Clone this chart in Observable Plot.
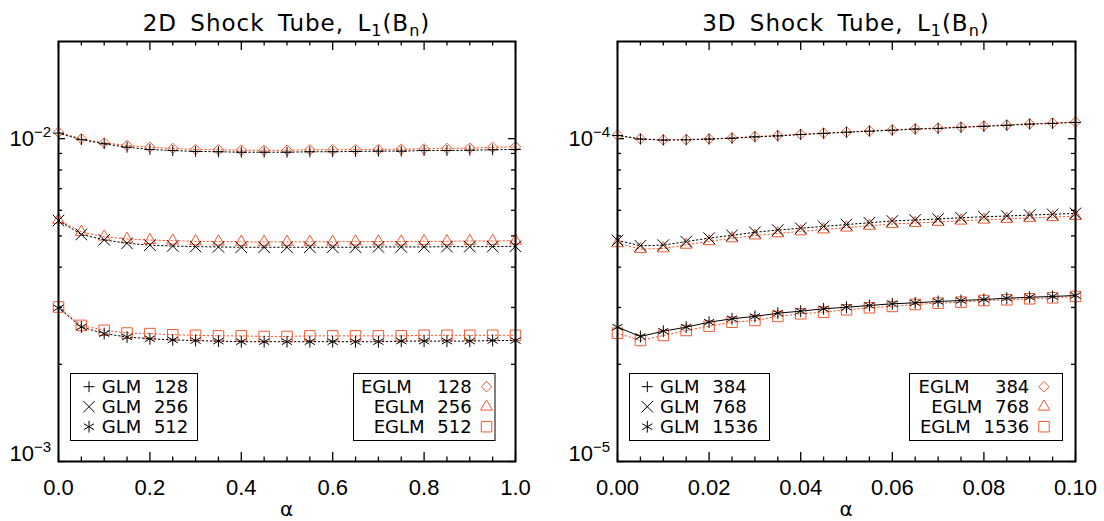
<!DOCTYPE html>
<html><head><meta charset="utf-8">
<script src="https://cdn.jsdelivr.net/npm/d3@7"></script>
<script src="https://cdn.jsdelivr.net/npm/@observablehq/plot@0.6"></script>
<style>
html,body{margin:0;padding:0;background:#fff;}
#wrap{display:flex;width:1104px;height:521px;overflow:hidden;}
#wrap svg{display:block;background:#fff;}
</style></head><body><div id="wrap"></div>
<script>
// ---------- data ----------
const alpha2D = [0.00,0.05,0.10,0.15,0.20,0.25,0.30,0.35,0.40,0.45,0.50,0.55,0.60,0.65,0.70,0.75,0.80,0.85,0.90,0.95,1.00];
const glm128  = [0.01040,0.00993,0.00964,0.00941,0.00926,0.00919,0.00913,0.00911,0.00908,0.00908,0.00908,0.00911,0.00911,0.00913,0.00915,0.00915,0.00919,0.00919,0.00921,0.00924,0.00926];
const eglm128 = [0.01047,0.00999,0.00971,0.00953,0.00941,0.00933,0.00926,0.00924,0.00921,0.00921,0.00921,0.00924,0.00924,0.00926,0.00926,0.00928,0.00930,0.00933,0.00935,0.00940,0.00944];
const glm256  = [0.00558,0.00505,0.00486,0.00474,0.00468,0.00465,0.00463,0.00462,0.00461,0.00461,0.00461,0.00461,0.00461,0.00461,0.00462,0.00462,0.00462,0.00463,0.00463,0.00463,0.00464];
const eglm256 = [0.00560,0.00514,0.00497,0.00489,0.00485,0.00483,0.00481,0.00480,0.00479,0.00479,0.00479,0.00479,0.00479,0.00480,0.00480,0.00480,0.00481,0.00481,0.00482,0.00482,0.00483];
const glm512  = [0.00299,0.00261,0.00249,0.00243,0.00240,0.00238,0.00237,0.00236,0.00235,0.00235,0.00235,0.00235,0.00235,0.00235,0.00235,0.00236,0.00236,0.00236,0.00236,0.00237,0.00237];
const eglm512 = [0.00301,0.00264,0.00255,0.00250,0.00249,0.00247,0.00246,0.00245,0.00245,0.00244,0.00244,0.00245,0.00245,0.00245,0.00245,0.00245,0.00246,0.00246,0.00246,0.00246,0.00246];

const alpha3D = [0.000,0.005,0.010,0.015,0.020,0.025,0.030,0.035,0.040,0.045,0.050,0.055,0.060,0.065,0.070,0.075,0.080,0.085,0.090,0.095,0.100];
const glm384   = [1.023e-4,0.997e-4,0.990e-4,0.992e-4,0.997e-4,1.003e-4,1.013e-4,1.020e-4,1.030e-4,1.038e-4,1.047e-4,1.055e-4,1.062e-4,1.071e-4,1.076e-4,1.084e-4,1.092e-4,1.100e-4,1.109e-4,1.115e-4,1.123e-4];
const eglm384  = [1.026e-4,0.999e-4,0.992e-4,0.994e-4,0.999e-4,1.006e-4,1.015e-4,1.023e-4,1.032e-4,1.041e-4,1.049e-4,1.057e-4,1.065e-4,1.073e-4,1.079e-4,1.087e-4,1.095e-4,1.103e-4,1.112e-4,1.118e-4,1.126e-4];
const glm768   = [4.84e-5,4.66e-5,4.68e-5,4.80e-5,4.92e-5,5.02e-5,5.13e-5,5.21e-5,5.28e-5,5.35e-5,5.42e-5,5.49e-5,5.56e-5,5.60e-5,5.64e-5,5.69e-5,5.73e-5,5.76e-5,5.80e-5,5.83e-5,5.87e-5];
const eglm768  = [4.74e-5,4.55e-5,4.57e-5,4.69e-5,4.81e-5,4.91e-5,5.01e-5,5.09e-5,5.16e-5,5.23e-5,5.30e-5,5.37e-5,5.44e-5,5.48e-5,5.52e-5,5.57e-5,5.61e-5,5.64e-5,5.68e-5,5.71e-5,5.76e-5];
const glm1536  = [2.607e-5,2.439e-5,2.533e-5,2.607e-5,2.701e-5,2.768e-5,2.814e-5,2.880e-5,2.922e-5,2.972e-5,3.006e-5,3.043e-5,3.080e-5,3.102e-5,3.131e-5,3.153e-5,3.176e-5,3.205e-5,3.228e-5,3.245e-5,3.268e-5];
const eglm1536 = [2.497e-5,2.371e-5,2.457e-5,2.546e-5,2.625e-5,2.701e-5,2.734e-5,2.814e-5,2.868e-5,2.901e-5,2.951e-5,2.994e-5,3.022e-5,3.065e-5,3.094e-5,3.116e-5,3.153e-5,3.169e-5,3.192e-5,3.215e-5,3.245e-5];

const xMajor2D = [0, 0.2, 0.4, 0.6, 0.8, 1.0];
const xMinor2D = [0.05,0.1,0.15,0.25,0.3,0.35,0.45,0.5,0.55,0.65,0.7,0.75,0.85,0.9,0.95];
const xMajor3D = [0, 0.02, 0.04, 0.06, 0.08, 0.10];
const xMinor3D = [0.005,0.01,0.015,0.025,0.03,0.035,0.045,0.05,0.055,0.065,0.07,0.075,0.085,0.09,0.095];
const yDomain2D = [1e-3, 2e-2];
const yMajor2D = [1e-3, 1e-2];
const yMinor2D = [2e-3,3e-3,4e-3,5e-3,6e-3,7e-3,8e-3,9e-3];
const yDomain3D = [1e-5, 2e-4];
const yMajor3D = [1e-5, 1e-4];
const yMinor3D = [2e-5,3e-5,4e-5,5e-5,6e-5,7e-5,8e-5,9e-5];

const title2D = [["2D Shock Tube, L",0],["1",1],["(B",0],["n",1],[")",0]];
const title3D = [["3D Shock Tube, L",0],["1",1],["(B",0],["n",1],[")",0]];
const xLabel = "α";
const legGLM2D  = ["GLM 128", "GLM 256", "GLM 512"];
const legEGLM2D = ["EGLM  128", "EGLM 256", "EGLM 512"];
const legGLM3D  = ["GLM 384", "GLM 768", "GLM 1536"];
const legEGLM3D = ["EGLM  384", "EGLM 768", "EGLM 1536"];

// ---------- styles ----------
const ORANGE = "#ee5a30";
const DOT = "1.5,2.5";
const SYM = {
  plus:      {r: 3.6},
  times:     {r: 5.3},
  asterisk:  {r: 5.6},
  diamond2:  {r: 4.7},
  triangle2: {r: 5.6},
  square2:   {r: 6.7}
};
const D3SYM = {plus: d3.symbolPlus, times: d3.symbolTimes, asterisk: d3.symbolAsterisk,
  diamond2: d3.symbolDiamond2, triangle2: d3.symbolTriangle2, square2: d3.symbolSquare2};

function rows(xs, ys) { return xs.map((a, i) => ({a, v: ys[i]})); }

function makePanel(cfg) {
  const W = cfg.width, H = 521, mt = 41, mb = 60, ml = cfg.ml, mr = cfg.mr;
  const iw = W - ml - mr, ih = H - mt - mb;
  const marks = [];
  const tw = 1.3;
  marks.push(
    Plot.ruleX(cfg.xMajor, {x: d => d, insetTop: ih - 9, strokeWidth: tw}),
    Plot.ruleX(cfg.xMajor, {x: d => d, insetBottom: ih - 9, strokeWidth: tw}),
    Plot.ruleX(cfg.xMinor, {x: d => d, insetTop: ih - 4.5, strokeWidth: tw}),
    Plot.ruleX(cfg.xMinor, {x: d => d, insetBottom: ih - 4.5, strokeWidth: tw}),
    Plot.ruleY(cfg.yMajor, {y: d => d, insetRight: iw - 7, strokeWidth: tw}),
    Plot.ruleY(cfg.yMajor, {y: d => d, insetLeft: iw - 7, strokeWidth: tw}),
    Plot.ruleY(cfg.yMinor, {y: d => d, insetRight: iw - 4, strokeWidth: tw}),
    Plot.ruleY(cfg.yMinor, {y: d => d, insetLeft: iw - 4, strokeWidth: tw})
  );
  for (const s of cfg.series) {
    marks.push(Plot.line(s.data, {x: "a", y: "v", stroke: s.color, strokeWidth: 1, strokeDasharray: s.dash}));
    marks.push(Plot.dot(s.data, {x: "a", y: "v", symbol: s.symbol, r: SYM[s.symbol].r, stroke: s.color, fill: "none", strokeWidth: 1}));
  }
  marks.push(Plot.frame({stroke: "black", strokeWidth: 2}));
  marks.push(Plot.axisX(cfg.xMajor, {tickSize: 0, tickPadding: 18, tickFormat: cfg.xFmt, label: null,
    fontSize: 22, fontFamily: "Liberation Sans"}));

  const plot = Plot.plot({
    width: W, height: H, marginTop: mt, marginBottom: mb, marginLeft: ml, marginRight: mr,
    x: {domain: cfg.xDomain},
    y: {type: "log", domain: cfg.yDomain, axis: null},
    style: {fontFamily: "Liberation Sans", fontSize: "22px", color: "black", background: "white"},
    marks
  });
  const svg = d3.select(plot);
  const sy = plot.scale("y");

  // title with subscripts
  const t = svg.append("text").attr("x", ml + iw / 2).attr("y", 31).attr("text-anchor", "middle")
    .attr("font-family", "DejaVu Sans").attr("font-size", 23).attr("fill", "black")
    .style("letter-spacing", "1px").style("word-spacing", "5px").style("white-space", "pre");
  let prev = 0;
  for (const [txt, sub] of cfg.title) {
    const sp = t.append("tspan").text(txt);
    if (sub) sp.attr("font-size", 16);
    if (sub !== prev) sp.attr("dy", sub ? 5 : -5);
    prev = sub;
  }

  // y tick labels 10^n
  for (const v of cfg.yMajor) {
    const e = Math.round(Math.log10(v));
    const y = sy.apply(v);
    const base = v === cfg.yDomain[0] ? y : y + 8;
    const tx = svg.append("text").attr("x", ml - 7).attr("y", base).attr("text-anchor", "end")
      .attr("font-family", "Liberation Sans").attr("font-size", 22).attr("fill", "black");
    tx.append("tspan").text("10");
    tx.append("tspan").text("\u2212" + Math.abs(e)).attr("font-size", 15).attr("dy", -9.5);
  }

  // x label
  svg.append("text").attr("x", ml + iw / 2).attr("y", 515.5).attr("text-anchor", "middle")
    .attr("font-family", "DejaVu Sans").attr("font-size", 20).attr("fill", "black").text(xLabel);

  // legends
  for (const L of cfg.legends) {
    svg.append("rect").attr("x", L.x).attr("y", 373.5).attr("width", L.w).attr("height", 67)
      .attr("fill", "white").attr("stroke", "black").attr("stroke-width", 1);
    L.items.forEach((it, i) => {
      const cy = 386.7 + i * 20;
      const size = Math.PI * SYM[it.symbol].r ** 2;
      svg.append("path").attr("d", d3.symbol(D3SYM[it.symbol], size)())
        .attr("transform", `translate(${L.symX},${cy})`)
        .attr("fill", "none").attr("stroke", it.color).attr("stroke-width", 1);
      svg.append("text").attr("x", L.textX).attr("y", cy + 6.6)
        .attr("text-anchor", L.anchor).attr("font-family", "DejaVu Sans").attr("font-size", 18)
        .attr("fill", "black").style("white-space", "pre").style("word-spacing", "7px")
        .text(it.label);
    });
  }
  return plot;
}

const wrap = document.getElementById("wrap");

wrap.appendChild(makePanel({
  width: 552, ml: 58, mr: 37,
  xDomain: [0, 1], yDomain: yDomain2D,
  xMajor: xMajor2D, xMinor: xMinor2D, yMajor: yMajor2D, yMinor: yMinor2D,
  xFmt: d3.format(".1f"), title: title2D,
  series: [
    {data: rows(alpha2D, eglm128), color: ORANGE, symbol: "diamond2", dash: DOT},
    {data: rows(alpha2D, eglm256), color: ORANGE, symbol: "triangle2", dash: DOT},
    {data: rows(alpha2D, eglm512), color: ORANGE, symbol: "square2", dash: DOT},
    {data: rows(alpha2D, glm128), color: "black", symbol: "plus", dash: DOT},
    {data: rows(alpha2D, glm256), color: "black", symbol: "times", dash: DOT},
    {data: rows(alpha2D, glm512), color: "black", symbol: "asterisk", dash: DOT}
  ],
  legends: [
    {x: 70.5, w: 127, symX: 89, textX: 101.7, anchor: "start", items: [
      {symbol: "plus", color: "black", label: legGLM2D[0]},
      {symbol: "times", color: "black", label: legGLM2D[1]},
      {symbol: "asterisk", color: "black", label: legGLM2D[2]}]},
    {x: 353.5, w: 141.5, symX: 486.5, textX: 471.7, anchor: "end", items: [
      {symbol: "diamond2", color: ORANGE, label: legEGLM2D[0]},
      {symbol: "triangle2", color: ORANGE, label: legEGLM2D[1]},
      {symbol: "square2", color: ORANGE, label: legEGLM2D[2]}]}
  ]
}));

wrap.appendChild(makePanel({
  width: 552, ml: 65, mr: 29,
  xDomain: [0, 0.1], yDomain: yDomain3D,
  xMajor: xMajor3D, xMinor: xMinor3D, yMajor: yMajor3D, yMinor: yMinor3D,
  xFmt: d3.format(".2f"), title: title3D,
  series: [
    {data: rows(alpha3D, eglm384), color: ORANGE, symbol: "diamond2", dash: DOT},
    {data: rows(alpha3D, eglm768), color: ORANGE, symbol: "triangle2", dash: DOT},
    {data: rows(alpha3D, eglm1536), color: ORANGE, symbol: "square2", dash: DOT},
    {data: rows(alpha3D, glm384), color: "black", symbol: "plus", dash: DOT},
    {data: rows(alpha3D, glm768), color: "black", symbol: "times", dash: DOT},
    {data: rows(alpha3D, glm1536), color: "black", symbol: "asterisk", dash: null}
  ],
  legends: [
    {x: 77.5, w: 140, symX: 95.3, textX: 108, anchor: "start", items: [
      {symbol: "plus", color: "black", label: legGLM3D[0]},
      {symbol: "times", color: "black", label: legGLM3D[1]},
      {symbol: "asterisk", color: "black", label: legGLM3D[2]}]},
    {x: 357.5, w: 153, symX: 492, textX: 477.3, anchor: "end", items: [
      {symbol: "diamond2", color: ORANGE, label: legEGLM3D[0]},
      {symbol: "triangle2", color: ORANGE, label: legEGLM3D[1]},
      {symbol: "square2", color: ORANGE, label: legEGLM3D[2]}]}
  ]
}));
</script>
</body></html>
